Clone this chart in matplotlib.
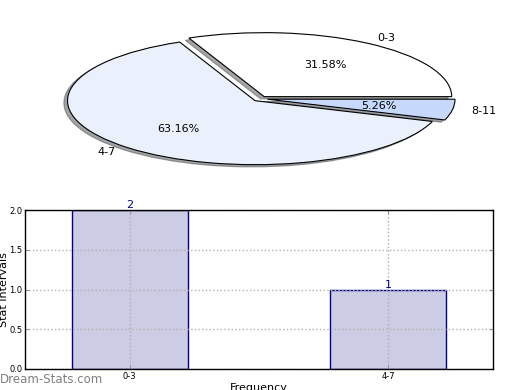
import matplotlib
matplotlib.use("Agg")
import matplotlib.pyplot as plt
import numpy as np

# --- pie data ---
pie_labels = ['0-3', '4-7', '8-11']
pie_values = [31.58, 63.16, 5.26]
pie_colors = ['#ffffff', '#eaf1fd', '#c6d9fd']

# --- bar data ---
bar_labels = ['0-3', '4-7']
bar_values = [2, 1]

fig = plt.figure(figsize=(5.2, 3.9), dpi=100)

# pie axes: squashed (auto aspect)
W, H = 520.0, 390.0
ax1 = fig.add_axes([0, 1 - 190 / H, 1, 190 / H])
wedges, texts, autotexts = ax1.pie(pie_values, labels=pie_labels, colors=pie_colors,
                                   explode=[0.04, 0.04, 0.04], autopct='%1.2f%%',
                                   shadow=dict(ox=-0.014, oy=-0.025),
                                   startangle=0,
                                   wedgeprops=dict(edgecolor='black', linewidth=0.8),
                                   textprops=dict(fontsize=8))
ax1.set_aspect('auto')
cx, cy, sx, sy = 260.1, 98.8, 187.5, 64.0
ax1.set_xlim(-cx / sx, (W - cx) / sx)
ax1.set_ylim(-(190 - cy) / sy, cy / sy)
ax1.axis('off')

# bar axes
ax2 = fig.add_axes([25 / W, 21 / H, 468 / W, 159 / H])
x = np.arange(len(bar_values))
ax2.bar(x, bar_values, width=0.45, color='#cccce5', edgecolor='#000080',
        linewidth=1.0, zorder=2)
for xi, v in zip(x, bar_values):
    ax2.text(xi, v, str(v), ha='center', va='bottom', color='#000080', fontsize=8)
ax2.set_xlim(-0.405, 1.405)
ax2.set_ylim(0, 2)
ax2.set_xticks(x)
ax2.set_xticklabels(bar_labels)
ax2.set_yticks([0, 0.5, 1.0, 1.5, 2.0])
ax2.set_yticklabels(['0.0', '0.5', '1.0', '1.5', '2.0'])
ax2.tick_params(direction='in', top=True, right=True, length=3, labelsize=6,
                color='#999999', pad=2)
ax2.grid(True, linestyle=':', color='#b0b0b0', linewidth=1.0, zorder=3)
ax2.set_axisbelow(False)
for s in ax2.spines.values():
    s.set_linewidth(1.0)
    s.set_zorder(4)

ax2.set_ylabel('Stat Intervals', fontsize=8)
ax2.yaxis.set_label_coords((9 - 25) / 468, 0.5)
ax2.set_xlabel('Frequency', fontsize=8)
ax2.xaxis.set_label_coords(0.5, (369 - 383) / 159)

fig.text(0, 4 / H, 'Dream-Stats.com', fontsize=8.5, color='#808080',
         ha='left', va='bottom')

fig.savefig('out.png', dpi=100)
